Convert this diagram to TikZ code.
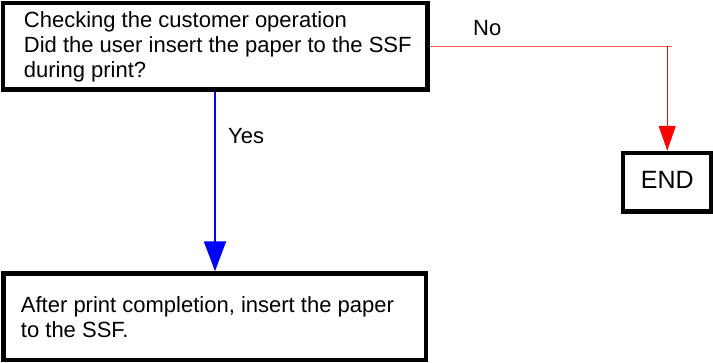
\documentclass[tikz,border=0pt]{standalone}
\usepackage{fontspec}
\setmainfont{Liberation Sans}
\usetikzlibrary{positioning, calc, arrows.meta}

\tikzset{
  flowbox/.style={draw, line width=4.5pt, fill=white, rectangle, inner sep=0pt},
  boxtext/.style={anchor=west, inner sep=0pt, align=left,
    font=\fontsize{22}{25}\selectfont},
  yesline/.style={draw=blue, line width=2pt, -{Triangle[width=22pt,length=30pt]}},
  noline/.style={draw=red!65, line width=1pt},
  noarrow/.style={draw=red, line width=1.5pt, -{Triangle[width=17pt,length=25pt]}},
  flowlabel/.style={anchor=base west, inner sep=0pt, font=\fontsize{22}{25}\selectfont}
}

\begin{document}
\begin{tikzpicture}[x=1pt, y=-1pt]
        \useasboundingbox (0,0) rectangle (713,362);

        % Boxes
        \node[flowbox, minimum width=424.5pt, minimum height=86.5pt] (check) at (215.25,46.25) {};
        \node[boxtext] (checktext) at ($(check.west)+(23,1)$)
              {Checking the customer operation\\
               Did the user insert the paper to the SSF\\
               during print?};
        \node[flowbox, minimum width=422.5pt, minimum height=86.5pt] (insert) at (214.75,316.75) {};
        \node[boxtext] (inserttext) at ($(insert.west)+(19.5,0.5)$)
              {After print completion, insert the paper\\
               to the SSF.};
        \node[flowbox, minimum width=88.5pt, minimum height=58.5pt,
              font=\fontsize{25}{28}\selectfont, text height=18pt, text depth=5pt] (endbox) at (667.25,182.25) {END};

        % Yes branch
        \draw[yesline] (check.south -| 215,0) -- (insert.north -| 215,0);
        \node[flowlabel] (yes) at (228,143) {Yes};

        % No branch
        \coordinate (noturn) at (672,46.25);
        \draw[noline] (check.east) -- (noturn);
        \draw[noarrow] (noturn -| endbox.north) -- (endbox.north);
        \node[flowlabel] (no) at (473,35) {No};

\end{tikzpicture}
\end{document}
